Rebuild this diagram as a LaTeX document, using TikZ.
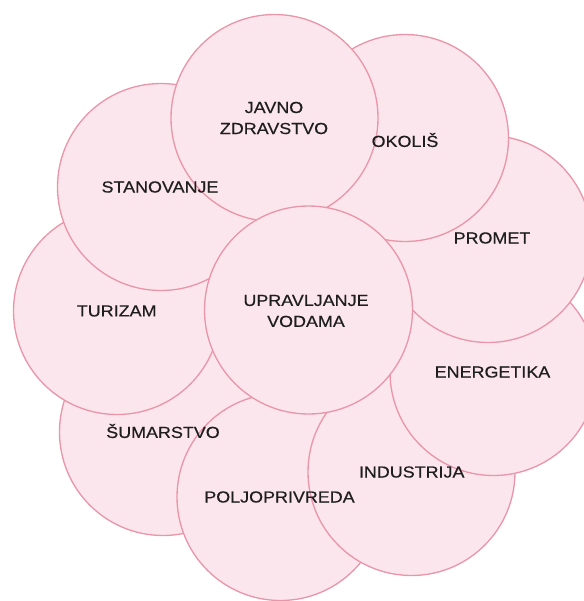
\documentclass[tikz,border=0pt]{standalone}
\usepackage{fontspec}
\setmainfont{Liberation Sans}[FakeStretch=1.12,FakeBold=0.5]
\definecolor{bubblefill}{RGB}{252,230,237}
\definecolor{bubbleline}{RGB}{234,150,170}
\definecolor{labeltext}{RGB}{30,30,30}
\begin{document}
\begin{tikzpicture}[x=0.75pt,y=-0.75pt,
  bubble/.style={circle,draw=bubbleline,fill=bubblefill,line width=1pt,minimum size=155.25pt,inner sep=0pt},
  lbl/.style={text=labeltext,font=\fontsize{12pt}{15.75pt}\selectfont,align=center,inner sep=0pt}]
\useasboundingbox (0,0) rectangle (584,601);
\clip (0,0) rectangle (584,601);
% circles, bottom to top
\node[bubble] (sum) at (163,432) {};
\node[bubble] (tur) at (117,311) {};
\node[bubble] (stan) at (161,187) {};
\node[bubble] (polj) at (280.5,497) {};
\node[bubble] (ind) at (411.5,472) {};
\node[bubble] (ener) at (493.5,372) {};
\node[bubble] (prom) at (488,239) {};
\node[bubble] (okol) at (405,138) {};
\node[bubble] (javno) at (274.5,118) {};
\node[bubble,minimum size=156pt] (upr) at (308.5,310) {};
% labels
\node[lbl] (tjavno) at (274,118) {JAVNO\\ZDRAVSTVO};
\node[lbl] (tokol) at (405,140) {OKOLIŠ};
\node[lbl] (tprom) at (492,238) {PROMET};
\node[lbl] (tener) at (492.5,372) {ENERGETIKA};
\node[lbl] (tind) at (411.7,472) {INDUSTRIJA};
\node[lbl] (tpolj) at (279.5,497) {POLJOPRIVREDA};
\node[lbl] (tsum) at (163,431) {ŠUMARSTVO};
\node[lbl] (ttur) at (116.7,311) {TURIZAM};
\node[lbl] (tstan) at (160,187) {STANOVANJE};
\node[lbl] (tupr) at (306,311) {UPRAVLJANJE\\VODAMA};
\end{tikzpicture}
\end{document}
